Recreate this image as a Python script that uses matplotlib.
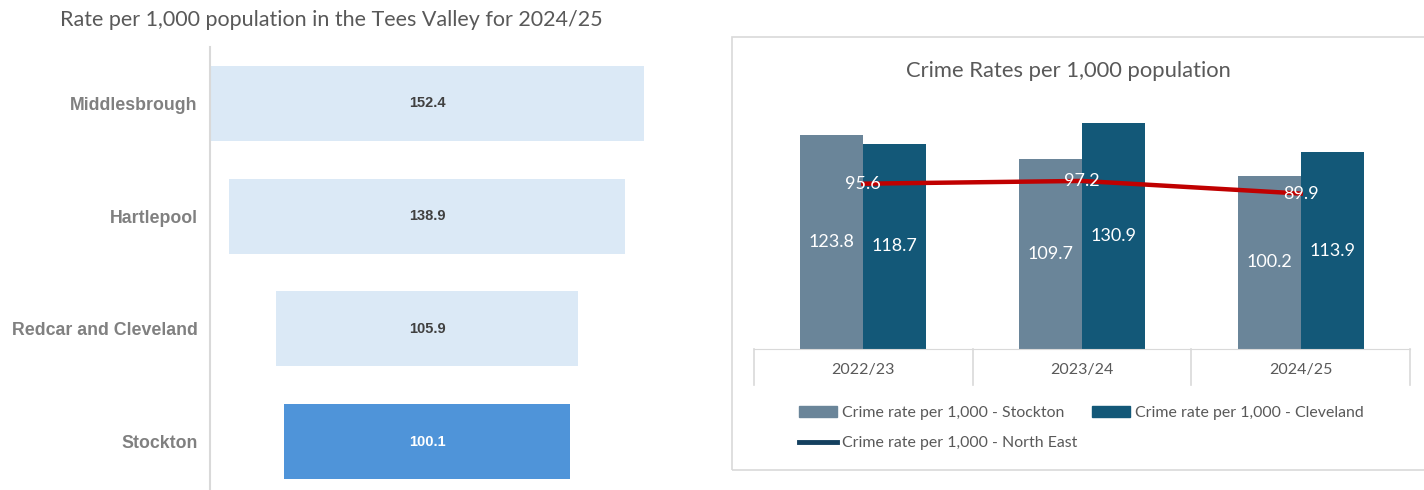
import matplotlib
matplotlib.use("Agg")
import matplotlib.pyplot as plt
from matplotlib.patches import Rectangle, Patch
from matplotlib.lines import Line2D

# left chart data
areas = ["Middlesbrough", "Hartlepool", "Redcar and Cleveland", "Stockton"]
rates_2425 = [152.4, 138.9, 105.9, 100.1]
highlight = "Stockton"

# right chart data
years = ["2022/23", "2023/24", "2024/25"]
stockton = [123.8, 109.7, 100.2]
cleveland = [118.7, 130.9, 113.9]
north_east = [95.6, 97.2, 89.9]

W, H = 1424, 490
fig = plt.figure(figsize=(W / 100, H / 100), dpi=100)

def fx(px):
    return px / W

def fy(py):
    return 1 - py / H

title_font = ["Lato", "DejaVu Sans"]
narrow = ["Liberation Sans", "DejaVu Sans"]
grey = "#595959"

# ---- left: funnel style bars centred on zero
ax1 = fig.add_axes([fx(210), 0, fx(644) - fx(210), fy(47)])
half = max(rates_2425) / 2
lefts = [-v / 2 for v in rates_2425]
cols = ["#4f94d9" if a == highlight else "#dbe9f6" for a in areas]
ax1.barh(range(len(areas)), rates_2425, left=lefts, height=0.665, color=cols)
ax1.set_xlim(-half, half)
ax1.set_ylim(3.43, -0.5)
for i, v in enumerate(rates_2425):
    ax1.text(0, i, f"{v:.1f}", ha="center", va="center", fontsize=10.5,
             fontweight="bold", family=narrow,
             color="white" if areas[i] == highlight else "#404040")
ax1.set_yticks(range(len(areas)))
ax1.set_yticklabels(areas, fontsize=12.8, fontweight="bold", family=narrow, color="#808080")
ax1.tick_params(axis="y", length=0, pad=9)
ax1.set_xticks([])
for s in ["top", "right", "bottom"]:
    ax1.spines[s].set_visible(False)
ax1.spines["left"].set_color("#d9d9d9")
ax1.spines["left"].set_linewidth(1.5)
fig.text(fx(60), fy(20), "Rate per 1,000 population in the Tees Valley for 2024/25",
         ha="left", va="center", fontsize=15.5, color=grey, family=title_font)

# ---- right: grouped bars with line
fig.patches.append(Rectangle((fx(732), fy(470)), 1.0, fy(37) - fy(470),
                             transform=fig.transFigure, fill=False,
                             edgecolor="#d9d9d9", linewidth=1.2))
ax2 = fig.add_axes([fx(754), fy(349), fx(1410) - fx(754), fy(100) - fy(349)])
x = list(range(len(years)))
bw = 0.288
b1 = ax2.bar([i - bw / 2 for i in x], stockton, width=bw, color="#6a8599")
b2 = ax2.bar([i + bw / 2 for i in x], cleveland, width=bw, color="#135878")
ax2.plot(x, north_east, color="#c00000", linewidth=3.2, zorder=3)
ax2.set_xlim(-0.5, 2.5)
ax2.set_ylim(0, 144)
for i in x:
    ax2.text(i - bw / 2, stockton[i] / 2, f"{stockton[i]:.1f}", ha="center", va="center",
             fontsize=13, color="white", family=title_font)
    ax2.text(i + bw / 2, cleveland[i] / 2, f"{cleveland[i]:.1f}", ha="center", va="center",
             fontsize=13, color="white", family=title_font)
    ax2.text(i, north_east[i], f"{north_east[i]:.1f}", ha="center", va="center",
             fontsize=13, color="white", family=title_font, zorder=4)

# table style category axis
ax2.set_xticks([])
ax2.set_yticks([])
for s in ["top", "right", "left"]:
    ax2.spines[s].set_visible(False)
ax2.spines["bottom"].set_color("#d9d9d9")
tr = ax2.get_xaxis_transform()
for b in [-0.5, 0.5, 1.5, 2.5]:
    ax2.plot([b, b], [0, -0.145], color="#d9d9d9", linewidth=1.2, transform=tr, clip_on=False)
for i, yr in enumerate(years):
    ax2.text(i, -0.085, yr, transform=tr, ha="center", va="center",
             fontsize=11.5, color=grey, family=title_font)

fig.text(fx(1068), fy(71), "Crime Rates per 1,000 population", ha="center", va="center",
         fontsize=15.8, color=grey, family=title_font)

handles = [Patch(color="#6a8599"),
           Line2D([], [], color="#14405f", linewidth=3.5),
           Patch(color="#135878")]
labels = ["Crime rate per 1,000 - Stockton",
          "Crime rate per 1,000 - North East",
          "Crime rate per 1,000 - Cleveland"]
fig.legend(handles, labels, ncol=2, loc="upper left",
           bbox_to_anchor=(fx(788), fy(395)), frameon=False,
           prop={"family": title_font, "size": 11.4}, labelcolor=grey,
           handlelength=2.4, handleheight=0.7, handletextpad=0.3,
           columnspacing=0.95, labelspacing=1.0, borderpad=0.2)

fig.savefig("out.png", dpi=100)
